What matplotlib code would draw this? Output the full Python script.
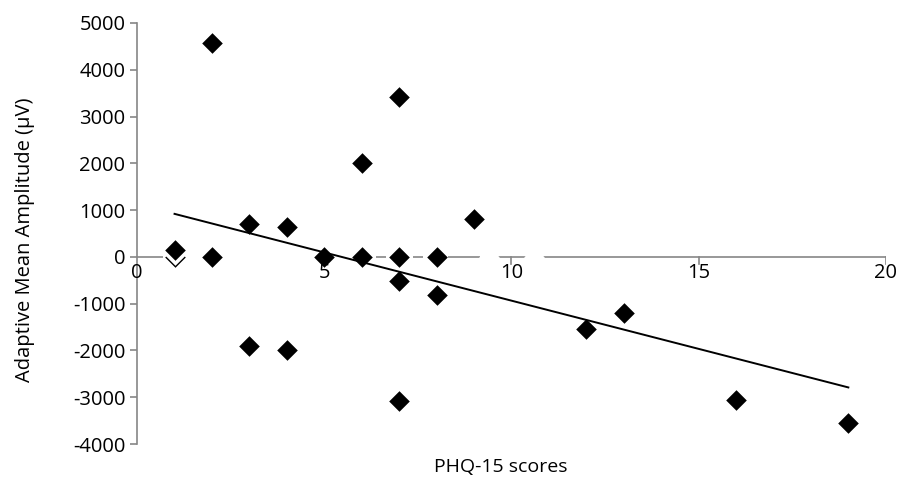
import numpy as np
import matplotlib.pyplot as plt

plt.rcParams['font.family'] = ['Open Sans', 'DejaVu Sans']
plt.rcParams['axes.unicode_minus'] = False

# PHQ-15 scores vs adaptive mean amplitude
phq = [1, 1, 2, 2, 3, 3, 4, 4, 5, 6, 6, 7, 7, 7, 7, 8, 8, 9, 12, 13, 16, 19]
amp = [0, 150, 4580, 0, 700, -1910, 640, -1980, 0, 2000, 0,
       3410, 0, -520, -3080, 0, -810, 800, -1550, -1190, -3060, -3540]

# trend line as drawn in the original
trend_x = [1, 19]
trend_y = [920, -2790]

# white (hidden) points that mask the zero line in the original
hidden_x = [1, 9.4, 10.6]
hidden_y = [50, 0, 0]

# visible pieces of the x axis line
axis_pieces = [(0, 0.68), (6.38, 6.65), (7.37, 7.64), (8.3, 9.15), (9.6, 10.4), (10.8, 20)]

gray = '#868686'

fig = plt.figure(figsize=(9.02, 4.79), dpi=100)
ax = fig.add_axes([0.152, 0.073, 0.83, 0.879])

# x axis drawn at y=0 in pieces
for a, b in axis_pieces:
    ax.plot([a, b], [0, 0], color=gray, lw=1.2, zorder=1, solid_capstyle='butt')
ax.spines['bottom'].set_visible(False)
ax.spines['top'].set_visible(False)
ax.spines['right'].set_visible(False)
ax.spines['left'].set_color(gray)
ax.spines['left'].set_linewidth(1.2)

# ticks on the x axis hang down from y=0
for t in [5, 10, 15, 20]:
    ax.plot([t, t], [0, -150], color=gray, lw=1.2, zorder=1)
for t in [0, 5, 10, 15, 20]:
    ax.text(t, -130, str(t), ha='center', va='top', fontsize=14.5)

ax.scatter(phq[:1], amp[:1], marker='D', s=110, color='black', zorder=3, linewidths=0)
ax.scatter(hidden_x, hidden_y, marker='D', s=110, color='white', zorder=3.5, linewidths=0)
ax.scatter(phq[1:], amp[1:], marker='D', s=110, color='black', zorder=4, linewidths=0)

ax.plot(trend_x, trend_y, color='black', lw=1.4, zorder=5)

ax.set_xlim(0, 20)
ax.set_ylim(-4000, 5000)
ax.set_xticks([])
ax.set_yticks(range(-4000, 5001, 1000))
ax.tick_params(axis='y', colors=gray, labelcolor='black', labelsize=14.5, length=5, width=1.2)

fig.text(0.555, 0.026, 'PHQ-15 scores', ha='center', va='center', fontsize=14)
fig.text(0.028, 0.5, 'Adaptive Mean Amplitude (µV)', ha='center', va='center',
         rotation=90, fontsize=14.5)

fig.savefig('out.png', dpi=100)
